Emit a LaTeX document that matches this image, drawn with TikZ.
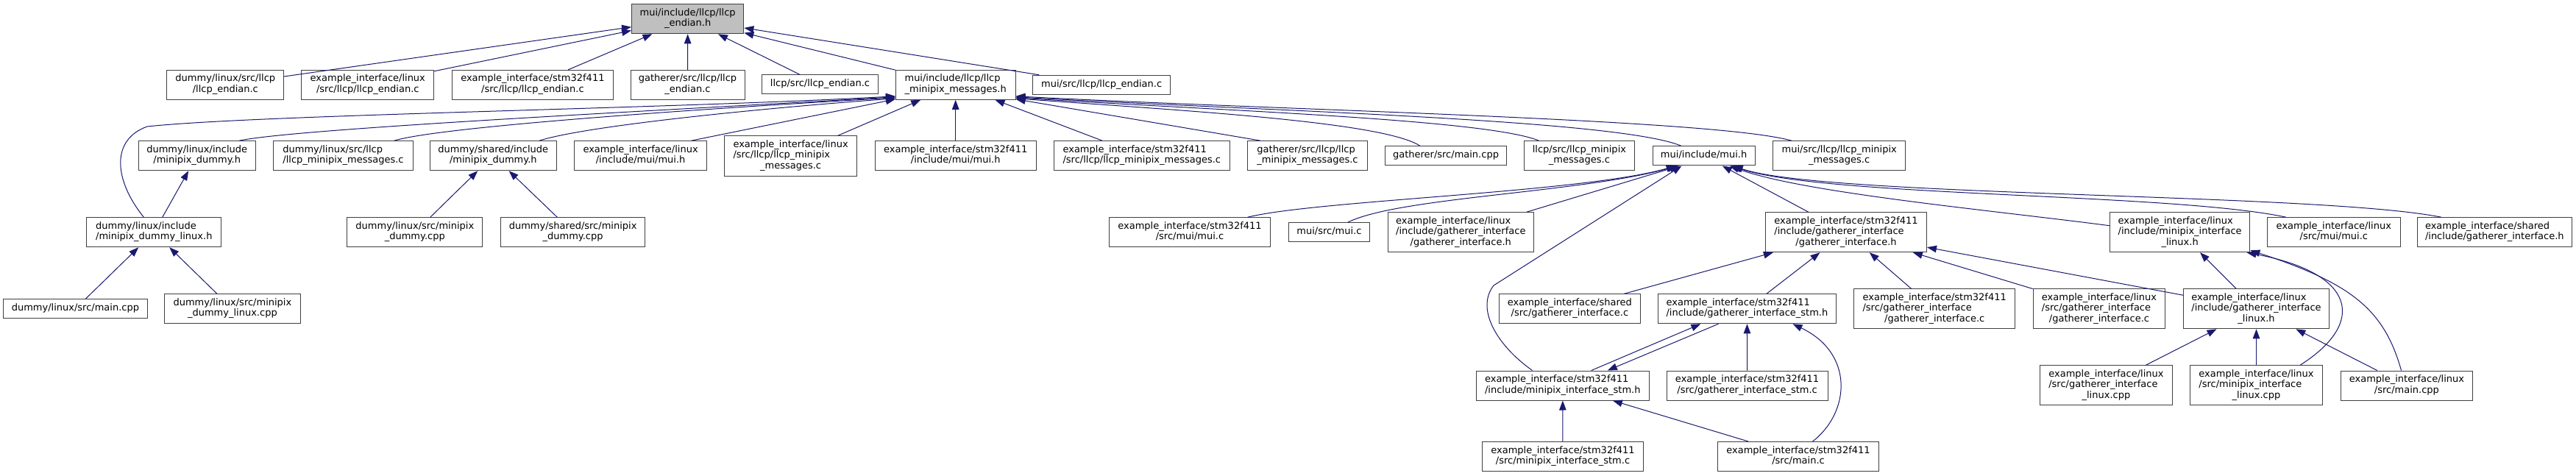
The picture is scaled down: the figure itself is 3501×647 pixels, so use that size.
\documentclass[tikz,border=0pt]{standalone}
\usepackage{fontspec}
\setmainfont{DejaVu Sans}
\usetikzlibrary{arrows.meta}
\definecolor{edgecol}{HTML}{191970}
\definecolor{boxline}{HTML}{404040}
\definecolor{rootfill}{HTML}{BFBFBF}
\newcommand\nlA[1]{\begin{tabular}{@{}c@{}}#1\end{tabular}}
\newcommand\nlB[2]{\begin{tabular}{@{}l@{}}#1\\\multicolumn{1}{@{}c@{}}{#2}\end{tabular}}
\newcommand\nlC[3]{\begin{tabular}{@{}l@{}}#1\\#2\\\multicolumn{1}{@{}c@{}}{#3}\end{tabular}}
\begin{document}
\begin{tikzpicture}[x=1pt,y=-1pt,
  filebox/.style={draw=boxline,line width=1pt,fill=white,rectangle,inner sep=0pt,
    font=\fontsize{13pt}{14.5pt}\selectfont,text=black},
  h1/.style={minimum height=26pt},
  h2/.style={minimum height=40pt},
  h3/.style={minimum height=54pt},
  dep/.style={draw=edgecol,line width=1pt,-{Triangle[length=13pt,width=9.5pt]}}]
\fill[white] (0,0) rectangle (3501,647);
\useasboundingbox (0,0) rectangle (3501,647);
% row 0
\node[filebox,h2,fill=rootfill,minimum width=152.3pt] (root) at (934.7,25.8) {\nlB{mui/include/llcp/llcp}{\_endian.h}};
% row 1
\node[filebox,h2,minimum width=158.8pt] (A1) at (306.3,115.3) {\nlB{dummy/linux/src/llcp}{/llcp\_endian.c}};
\node[filebox,h2,minimum width=179.8pt] (A2) at (499.8,115.3) {\nlB{example\_interface/linux}{/src/llcp/llcp\_endian.c}};
\node[filebox,h2,minimum width=218.9pt] (A3) at (723.9,115.3) {\nlB{example\_interface/stm32f411}{/src/llcp/llcp\_endian.c}};
\node[filebox,h2,minimum width=155pt] (A4) at (934.5,115.3) {\nlB{gatherer/src/llcp/llcp}{\_endian.c}};
\node[filebox,h1,minimum width=157.6pt] (A5) at (1114.5,115) {\nlA{llcp/src/llcp\_endian.c}};
\node[filebox,h2,minimum width=162.6pt] (A6) at (1298.7,115.3) {\nlB{mui/include/llcp/llcp}{\_minipix\_messages.h}};
\node[filebox,h1,minimum width=186.7pt] (A7) at (1497.1,115.3) {\nlA{mui/src/llcp/llcp\_endian.c}};
% row 2
\node[filebox,h2,minimum width=158.8pt] (B1) at (267.7,211.7) {\nlB{dummy/linux/include}{/minipix\_dummy.h}};
\node[filebox,h2,minimum width=189.1pt] (B2) at (466.5,211.7) {\nlB{dummy/linux/src/llcp}{/llcp\_minipix\_messages.c}};
\node[filebox,h2,minimum width=171.4pt] (B3) at (670.3,211.7) {\nlB{dummy/shared/include}{/minipix\_dummy.h}};
\node[filebox,h2,minimum width=180.2pt] (B4) at (870.6,211.7) {\nlB{example\_interface/linux}{/include/mui/mui.h}};
\node[filebox,h3,minimum width=180.2pt] (B5) at (1074.6,212) {\nlC{example\_interface/linux}{/src/llcp/llcp\_minipix}{\_messages.c}};
\node[filebox,h2,minimum width=219.2pt] (B6) at (1298.7,211.7) {\nlB{example\_interface/stm32f411}{/include/mui/mui.h}};
\node[filebox,h2,minimum width=238.8pt] (B7) at (1551.8,211.7) {\nlB{example\_interface/stm32f411}{/src/llcp/llcp\_minipix\_messages.c}};
\node[filebox,h2,minimum width=163.3pt] (B8) at (1777,211.7) {\nlB{gatherer/src/llcp/llcp}{\_minipix\_messages.c}};
\node[filebox,h1,minimum width=164.6pt] (B9) at (1965,212) {\nlA{gatherer/src/main.cpp}};
\node[filebox,h2,minimum width=150.8pt] (B10) at (2146.4,211.7) {\nlB{llcp/src/llcp\_minipix}{\_messages.c}};
\node[filebox,h1,minimum width=138.9pt] (B11) at (2315.6,212) {\nlA{mui/include/mui.h}};
\node[filebox,h2,minimum width=180.3pt] (B12) at (2499.7,211.7) {\nlB{mui/src/llcp/llcp\_minipix}{\_messages.c}};
% row 3
\node[filebox,h2,minimum width=182.9pt] (C1) at (209.3,315.7) {\nlB{dummy/linux/include}{/minipix\_dummy\_linux.h}};
\node[filebox,h2,minimum width=184pt] (C2) at (563.8,315.7) {\nlB{dummy/linux/src/minipix}{\_dummy.cpp}};
\node[filebox,h2,minimum width=196.7pt] (C3) at (778.6,315.7) {\nlB{dummy/shared/src/minipix}{\_dummy.cpp}};
\node[filebox,h2,minimum width=219.3pt] (C4) at (1617,315.7) {\nlB{example\_interface/stm32f411}{/src/mui/mui.c}};
\node[filebox,h1,minimum width=110.6pt] (C5) at (1806.4,315.7) {\nlA{mui/src/mui.c}};
\node[filebox,h3,minimum width=197.4pt] (C6) at (1985.3,315.7) {\nlC{example\_interface/linux}{/include/gatherer\_interface}{/gatherer\_interface.h}};
\node[filebox,h3,minimum width=218.9pt] (C7) at (2509,315.7) {\nlC{example\_interface/stm32f411}{/include/gatherer\_interface}{/gatherer\_interface.h}};
\node[filebox,h3,minimum width=190.7pt] (C8) at (2962.6,315.7) {\nlC{example\_interface/linux}{/include/minipix\_interface}{\_linux.h}};
\node[filebox,h2,minimum width=180.9pt] (C9) at (3171.8,315.7) {\nlB{example\_interface/linux}{/src/mui/mui.c}};
\node[filebox,h2,minimum width=210.1pt] (C10) at (3390.3,315.7) {\nlB{example\_interface/shared}{/include/gatherer\_interface.h}};
% row 4
\node[filebox,h1,minimum width=195.5pt] (D1) at (102.4,419.8) {\nlA{dummy/linux/src/main.cpp}};
\node[filebox,h2,minimum width=184.8pt] (D2) at (315.9,419.8) {\nlB{dummy/linux/src/minipix}{\_dummy\_linux.cpp}};
\node[filebox,h2,minimum width=192.1pt] (D3) at (2133.4,419.8) {\nlB{example\_interface/shared}{/src/gatherer\_interface.c}};
\node[filebox,h2,minimum width=241.8pt] (D4) at (2374.4,419.8) {\nlB{example\_interface/stm32f411}{/include/gatherer\_interface\_stm.h}};
\node[filebox,h3,minimum width=218.9pt] (D5) at (2629.2,419.8) {\nlC{example\_interface/stm32f411}{/src/gatherer\_interface}{/gatherer\_interface.c}};
\node[filebox,h3,minimum width=179.8pt] (D6) at (2853,419.8) {\nlC{example\_interface/linux}{/src/gatherer\_interface}{/gatherer\_interface.c}};
\node[filebox,h3,minimum width=197.4pt] (D7) at (3066.5,419.8) {\nlC{example\_interface/linux}{/include/gatherer\_interface}{\_linux.h}};
% row 5
\node[filebox,h2,minimum width=235pt] (E1) at (2123.8,524) {\nlB{example\_interface/stm32f411}{/include/minipix\_interface\_stm.h}};
\node[filebox,h2,minimum width=219.2pt] (E2) at (2374.6,524) {\nlB{example\_interface/stm32f411}{/src/gatherer\_interface\_stm.c}};
\node[filebox,h3,minimum width=180.1pt] (E3) at (2862.4,523.8) {\nlC{example\_interface/linux}{/src/gatherer\_interface}{\_linux.cpp}};
\node[filebox,h3,minimum width=179.7pt] (E4) at (3066.5,523.8) {\nlC{example\_interface/linux}{/src/minipix\_interface}{\_linux.cpp}};
\node[filebox,h2,minimum width=179.7pt] (E5) at (3270.9,524) {\nlB{example\_interface/linux}{/src/main.cpp}};
% row 6
\node[filebox,h2,minimum width=218.5pt] (F1) at (2124,620.5) {\nlB{example\_interface/stm32f411}{/src/minipix\_interface\_stm.c}};
\node[filebox,h2,minimum width=218.9pt] (F2) at (2444,620.5) {\nlB{example\_interface/stm32f411}{/src/main.c}};

% edges to root
\foreach \s in {A1,A2,A3,A4,A5,A6,A7} \draw[dep] (\s) -- (root);
% edges to A6
\draw[dep] ([xshift=-14pt]C1.north) .. controls (155,245) and (150,190) .. (200,172) .. controls (350,156) and (900,148) .. ([yshift=5pt]A6.south west);
\draw[dep] ([xshift=57.6pt]B1.north) .. controls (400,175) and (900,150) .. ([yshift=4pt]A6.south west);
\draw[dep] ([xshift=69.3pt]B2.north) .. controls (600,172) and (950,148) .. ([yshift=3pt]A6.south west);
\draw[dep] ([xshift=62.7pt]B3.north) .. controls (800,170) and (1050,146) .. ([yshift=2pt]A6.south west);
\draw[dep] ([xshift=69pt]B4.north) -- ([yshift=1pt]A6.south west);
\draw[dep] (B5) -- (A6);
\draw[dep] (B6) -- (A6);
\draw[dep] (B7) -- (A6);
\draw[dep] ([xshift=-64pt]B8.north) -- ([yshift=1pt]A6.south east);
\draw[dep] ([xshift=-34.8pt]B9.north) .. controls (1880,165) and (1600,150) .. ([yshift=2pt]A6.south east);
\draw[dep] ([xshift=-55pt]B10.north) .. controls (2020,162) and (1650,150) .. ([yshift=3pt]A6.south east);
\draw[dep] ([xshift=-30.3pt]B11.north) .. controls (2200,162) and (1700,150) .. ([yshift=4pt]A6.south east);
\draw[dep] ([xshift=-64.9pt]B12.north) .. controls (2330,162) and (1750,150) .. ([yshift=5pt]A6.south east);
% edges to B1, B3
\draw[dep] (C1) -- (B1);
\draw[dep] (C2) -- (B3);
\draw[dep] (C3) -- (B3);
% edges to C1
\draw[dep] (D1) -- (C1);
\draw[dep] (D2) -- (C1);
% edges to B11 (mui.h)
\draw[dep] ([xshift=78.8pt]C4.north) .. controls (1790,272) and (2150,262) .. ([xshift=-38pt]B11.south);
\draw[dep] ([xshift=25.4pt]C5.north) .. controls (1900,268) and (2150,262) .. ([xshift=-36pt]B11.south);
\draw[dep] ([xshift=89.5pt]C6.north) -- ([xshift=-33pt]B11.south);
\draw[dep] ([xshift=-41.3pt]E1.north) .. controls (2035,470) and (2005,420) .. (2030,388) -- ([xshift=-30pt]B11.south);
\draw[dep] (C7) -- (B11);
\draw[dep] ([yshift=9pt]C8.west) .. controls (2700,285) and (2450,262) .. ([xshift=35pt]B11.south);
\draw[dep] ([xshift=-65pt]C9.north) .. controls (2950,262) and (2480,268) .. ([xshift=38pt]B11.south);
\draw[dep] ([xshift=-72.5pt]C10.north) .. controls (3150,262) and (2480,268) .. ([xshift=40pt]B11.south);
% edges to C7
\draw[dep] (D3) -- (C7);
\draw[dep] (D4) -- (C7);
\draw[dep] (D5) -- (C7);
\draw[dep] (D6) -- (C7);
\draw[dep] (D7) -- (C7);
% D4 and E1
\draw[dep] ([xshift=39pt]E1.north) -- ([xshift=-63pt]D4.south);
\draw[dep] ([xshift=-39pt]D4.south) -- ([xshift=61pt]E1.north);
\draw[dep] (E2) -- (D4);
\draw[dep] ([xshift=19.5pt]F2.north) .. controls (2515,560) and (2520,480) .. ([xshift=62pt]D4.south);
\draw[dep] (F1) -- (E1);
\draw[dep] (F2) -- (E1);
% edges to D7
\draw[dep] (E3) -- (D7);
\draw[dep] (E4) -- (D7);
\draw[dep] (E5) -- (D7);
% edges to C8
\draw[dep] (D7) -- (C8);
\draw[dep] ([xshift=59.5pt]E4.north) .. controls (3215,440) and (3205,372) .. ([xshift=-5pt]C8.south east);
\draw[dep] ([xshift=-7.4pt]E5.north) .. controls (3240,420) and (3195,385) .. ([yshift=3pt]C8.south east);
\end{tikzpicture}
\end{document}
